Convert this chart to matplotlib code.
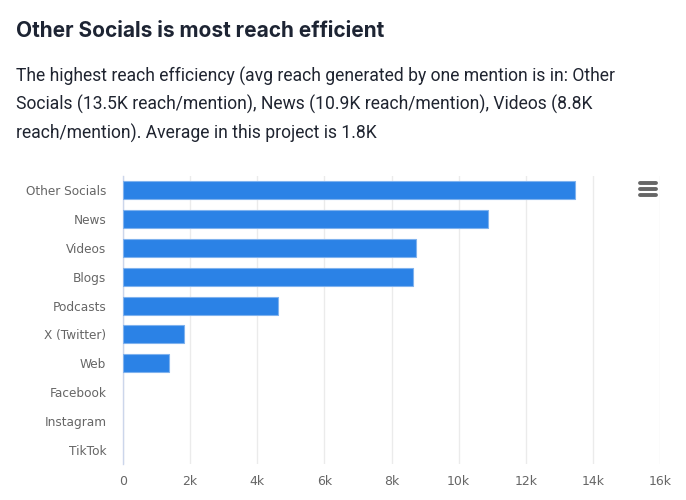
import matplotlib
matplotlib.use("Agg")
import matplotlib.pyplot as plt
from matplotlib.lines import Line2D

categories = ["Other Socials", "News", "Videos", "Blogs", "Podcasts",
              "X (Twitter)", "Web", "Facebook", "Instagram", "TikTok"]
reach = [13470, 10880, 8740, 8650, 4630, 1830, 1360, 0, 0, 0]
tick_values = [0, 2000, 4000, 6000, 8000, 10000, 12000, 14000, 16000]
tick_labels = ["0", "2k", "4k", "6k", "8k", "10k", "12k", "14k", "16k"]

title = "Other Socials is most reach efficient"
body = [
    "The highest reach efficiency (avg reach generated by one mention is in: Other",
    "Socials (13.5K reach/mention), News (10.9K reach/mention), Videos (8.8K",
    "reach/mention). Average in this project is 1.8K",
]

W, H = 686, 500
fig = plt.figure(figsize=(W / 100, H / 100), dpi=100, facecolor="white")

# plot area in pixels: left 123, right 660, top 176, bottom 464
ax = fig.add_axes([123 / W, 1 - 464 / H, (660 - 123) / W, (464 - 176) / H])
widths = [0.8 if v > 0 else 0 for v in reach]
ax.barh(categories, reach, height=0.62, color="#2b82e6", edgecolor="#7fb2ee", linewidth=widths, zorder=3)
ax.set_xlim(0, 16000)
ax.set_ylim(9.5, -0.5)
ax.set_xticks(tick_values)
ax.set_xticklabels(tick_labels)
ax.grid(axis="x", color="#ebebeb", linewidth=1, zorder=0)
ax.set_axisbelow(True)
for side in ["top", "right", "bottom"]:
    ax.spines[side].set_visible(False)
ax.spines["left"].set_color("#ccd6eb")
ax.spines["left"].set_linewidth(1)
ax.tick_params(axis="both", length=0, labelcolor="#666666", labelsize=9)
ax.tick_params(axis="y", pad=12, labelsize=8.7)
ax.tick_params(axis="x", pad=8)

fig.text(16 / W, 1 - 31 / H, title, family="Inter", fontweight="bold", fontsize=15.0,
         color="#1d2433", va="center", ha="left")
for i, line in enumerate(body):
    fig.text(16 / W, 1 - (76 + i * 28.6) / H, line, family="Roboto", fontsize=12.62,
             color="#1f2430", va="center", ha="left")

# export menu icon
for py in [183, 189, 195]:
    fig.add_artist(Line2D([640 / W, 656 / W], [1 - py / H, 1 - py / H], color="#666666",
                          linewidth=2.8, solid_capstyle="round"))

fig.savefig("out.png", dpi=100, facecolor="white")
